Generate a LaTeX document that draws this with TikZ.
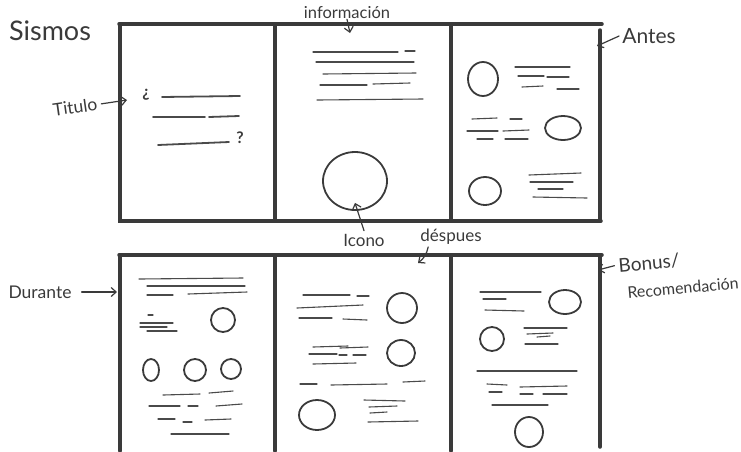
\documentclass[tikz,border=0pt]{standalone}
\usepackage{fontspec}
\setmainfont{Lato}
\usetikzlibrary{arrows.meta,shapes.geometric}
\definecolor{ink}{HTML}{3A3A3A}
\definecolor{pen}{HTML}{4A4A4A}
\begin{document}
\begin{tikzpicture}[x=1pt,y=-1pt,
 frame/.style={line width=3.5pt, draw=ink, line cap=round},
 ln/.style={line width=1.1pt, draw=pen, line cap=round},
 ic/.style={line width=1.8pt, draw=ink},
 lbl/.style={text=ink, inner sep=0pt},
 arr/.style={line width=1.2pt, draw=ink, line cap=round, -{Straight Barb[length=5pt,width=9pt]}},
]
\useasboundingbox (0,0) rectangle (741,451);

% ---- frames ----
\draw[frame] (119,24) -- (602,24);
\draw[frame] (120,24) -- (120,221) -- (601,221);
\draw[frame] (275,24) -- (275,221);
\draw[frame] (451,24) -- (451,221);
\draw[frame] (600,30) -- (600,221);
\draw[frame] (119,255) -- (602,255);
\draw[frame] (120,255) -- (120,451);
\draw[frame] (275,255) -- (275,451);
\draw[frame] (451,255) -- (451,451);
\draw[frame] (600,255) -- (600,447);

% ---- panel 1: title ----
\node[lbl, font=\bfseries\fontsize{16}{16}\selectfont] (qopen) at (146,95) {¿};
\node[lbl, font=\bfseries\fontsize{16}{16}\selectfont] (qclose) at (240,138) {?};
\foreach \a/\b/\c/\d in {162/97/240/96, 153/117/205/117, 209/117/239/116, 158/145/229/142}
  \draw[ln, line width=1.8pt] (\a,\b) -- (\c,\d);

% ---- panel 2: informacion ----
\foreach \a/\b/\c/\d in {313/52/398/52, 405/51/415/51, 316/62/414/62, 323/74/416/73,
  320/85/367/85, 373/84/410/83, 317/100/423/99}
  \draw[ln] (\a,\b) -- (\c,\d);
\node[ellipse, ic, minimum width=64pt, minimum height=58pt, inner sep=0pt] (icon) at (355,181) {};

% ---- panel 3: antes ----
\draw[ic] (483,79) ellipse [x radius=15pt, y radius=17pt];
\draw[ic] (563,128) ellipse [x radius=18pt, y radius=12pt];
\draw[ic] (485,191) ellipse [x radius=16pt, y radius=14pt];
\foreach \a/\b/\c/\d in {515/67/570/67, 518/76/544/76, 547/77/569/77, 522/87/543/86, 557/89/579/89,
  472/119/497/118, 467/131/498/131, 477/139/493/139,
  510/119/522/119, 503/131/529/130, 505/139/528/139,
  529/175/581/173, 530/182/573/182, 538/189/563/189, 533/197/587/198}
  \draw[ln] (\a,\b) -- (\c,\d);

% ---- panel 4: durante ----
\foreach \a/\b/\c/\d in {139/279/243/278, 147/286/245/286, 147/295/173/295, 188/294/247/292,
  148/315/153/315, 140/323/173/323, 140/327/167/327, 147/331/177/331,
  163/395/200/394, 209/393/233/391, 149/406/180/406, 188/406/198/406, 216/406/242/404,
  158/419/175/419, 183/422/192/422, 205/420/231/419, 171/434/229/434}
  \draw[ln] (\a,\b) -- (\c,\d);
\draw[ic] (223,320) ellipse [x radius=12pt, y radius=12pt];
\draw[ic] (151,370) ellipse [x radius=8pt, y radius=11pt];
\draw[ic] (195,370) ellipse [x radius=11pt, y radius=11pt];
\draw[ic] (231,369) ellipse [x radius=10pt, y radius=10pt];

% ---- panel 5: despues ----
\foreach \a/\b/\c/\d in {303/295/350/295, 357/296/369/296, 297/308/363/305, 299/318/332/318, 343/319/367/320,
  313/347/348/346, 340/348/368/347, 309/354/337/354, 339/355/347/355, 353/355/366/355, 313/364/356/363,
  300/384/317/384, 331/385/387/384, 403/382/425/381,
  364/400/405/401, 369/407/397/406, 370/413/387/412, 368/422/418/421}
  \draw[ln] (\a,\b) -- (\c,\d);
\draw[ic] (402,308) ellipse [x radius=15pt, y radius=15pt];
\draw[ic] (401,353) ellipse [x radius=14pt, y radius=13pt];
\draw[ic] (317,415) ellipse [x radius=18pt, y radius=15pt];

% ---- panel 6: bonus ----
\foreach \a/\b/\c/\d in {480/292/541/292, 483/299/506/299, 485/310/524/311,
  524/328/567/328, 527/334/553/333, 537/337/550/336, 525/344/558/344,
  477/371/577/371,
  487/384/507/385, 489/392/502/392, 520/387/567/386, 520/394/533/394, 543/394/567/394,
  492/405/548/405}
  \draw[ln] (\a,\b) -- (\c,\d);
\draw[ic] (565,302) ellipse [x radius=16pt, y radius=12pt];
\draw[ic] (492,339) ellipse [x radius=12pt, y radius=12pt];
\draw[ic] (529,432) ellipse [x radius=14pt, y radius=15pt];

% ---- labels ----
\node[lbl, font=\fontsize{27}{27}\selectfont] (sismos) at (50,31) {Sismos};
\node[lbl, font=\fontsize{16.5}{16.5}\selectfont] (info) at (347,13) {información};
\node[lbl, font=\fontsize{21}{21}\selectfont] (antes) at (649,36) {Antes};
\node[lbl, font=\fontsize{17.5}{17.5}\selectfont, rotate=8] (titulo) at (75,107) {Titulo};
\node[lbl, font=\fontsize{17}{17}\selectfont] (icono) at (364,240) {Icono};
\node[lbl, font=\fontsize{17}{17}\selectfont] (despues) at (451,237) {déspues};
\node[lbl, font=\fontsize{17.5}{17.5}\selectfont] (durante) at (40,292) {Durante};
\node[lbl, font=\fontsize{19}{19}\selectfont, rotate=5] (bonus) at (649,263) {Bonus/};
\node[lbl, font=\fontsize{16}{16}\selectfont, rotate=5] (recom) at (683,288) {Recomendación};

% ---- arrows ----
\coordinate (titA) at (127,100);
\coordinate (infoA) at (350,33);
\coordinate (antesA) at (597,46);
\coordinate (despA) at (418,263);
\coordinate (durA) at (117,292);
\coordinate (bonusA) at (598,270);
\draw[arr] ([xshift=4pt]titulo.east) -- (titA);
\draw[arr] (info.south) -- (infoA);
\draw[arr] ([xshift=-3pt]antes.west) -- (antesA);
\draw[arr] ([yshift=3pt]icono.north) -- ([yshift=8pt]icon.south);
\draw[arr] ([xshift=8pt,yshift=-2pt]despues.south west) to[bend left=20] (despA);
\draw[arr] ([xshift=10pt]durante.east) -- (durA);
\draw[arr] ([xshift=-4pt]bonus.west) -- (bonusA);
\end{tikzpicture}
\end{document}
